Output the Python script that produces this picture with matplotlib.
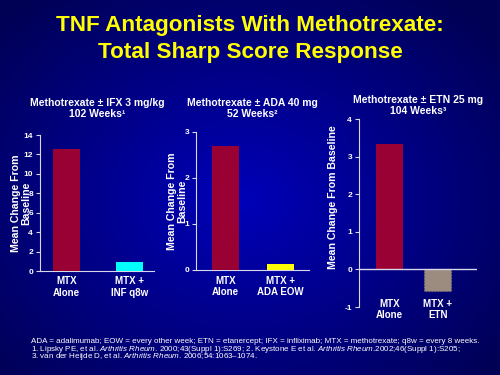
import numpy as np
import matplotlib.pyplot as plt

# data
cats1 = ['MTX\nAlone', 'MTX +\nINF q8w']
vals1 = [12.6, 0.9]
cats2 = ['MTX\nAlone', 'MTX +\nADA EOW']
vals2 = [2.7, 0.13]
cats3 = ['MTX\nAlone', 'MTX +\nETN']
vals3 = [3.33, -0.57]

titles = ['Methotrexate \u00b1 IFX 3 mg/kg\n102 Weeks\u00b9',
          'Methotrexate \u00b1 ADA 40 mg\n52 Weeks\u00b2',
          'Methotrexate \u00b1 ETN 25 mg\n104 Weeks\u00b3']

plt.rcParams['font.family'] = ['Liberation Sans', 'DejaVu Sans']
plt.rcParams['mathtext.fontset'] = 'custom'
plt.rcParams['mathtext.rm'] = 'Liberation Sans'
plt.rcParams['mathtext.it'] = 'Liberation Sans:italic'

fig = plt.figure(figsize=(5, 3.75), dpi=100)

# background gradient
bg = fig.add_axes([0, 0, 1, 1])
yy, xx = np.mgrid[0:375, 0:500]
r = np.sqrt(((xx - 240) / 330.0) ** 2 + ((yy - 200) / 260.0) ** 2)
r = np.clip(r, 0, 1)
c0 = np.array([0, 0, 185]) / 255.0
c1 = np.array([0, 0, 85]) / 255.0
img = c0[None, None, :] * (1 - r[..., None]) + c1[None, None, :] * r[..., None]
bg.imshow(img, aspect='auto', extent=[0, 1, 0, 1])
bg.axis('off')

fig.text(0.5, 0.933, 'TNF Antagonists With Methotrexate:', color='#FFFF00',
         fontsize=16.2, fontweight='bold', ha='center', va='center')
fig.text(0.5, 0.859, 'Total Sharp Score Response', color='#FFFF00',
         fontsize=16.2, fontweight='bold', ha='center', va='center')

wc = '#D8D8E8'


def panel(rect, cats, vals, colors, ylim, yticks, xlim, width, title, title_y,
          ylab, ylab_x, ylab_y, lab_y, zero_line=False):
    ax = fig.add_axes(rect)
    ax.set_facecolor('none')
    x = np.arange(len(vals))
    bars = ax.bar(x, vals, width=width, color=colors, zorder=3)
    ax.set_xlim(*xlim)
    ax.set_ylim(*ylim)
    ax.set_yticks(yticks)
    ax.set_yticklabels([str(t) for t in yticks], color='white',
                       fontsize=6, fontweight='bold')
    ax.tick_params(axis='y', colors=wc, length=3, width=0.8, pad=2,
                   labelcolor='white')
    ax.set_xticks([])
    for s in ['top', 'right']:
        ax.spines[s].set_visible(False)
    ax.spines['left'].set_color(wc)
    ax.spines['bottom'].set_color(wc)
    if zero_line:
        ax.spines['bottom'].set_visible(False)
        ax.axhline(0, color=wc, lw=1.0, zorder=4)
    for xi, c in zip(x, cats):
        ax.text(xi, lab_y, c, transform=ax.get_xaxis_transform(),
                ha='center', va='top', color='white', fontsize=7,
                fontweight='bold', linespacing=1.2)
    fig.text(rect[0] + rect[2] / 2, title_y, title, ha='center', va='center',
             color='white', fontsize=7.5, fontweight='bold', linespacing=1.1)
    fig.text(ylab_x, ylab_y, ylab, rotation=90, ha='center', va='center',
             color='white', fontsize=7.6, fontweight='bold', linespacing=1.0)
    return ax, bars


panel([0.080, 0.2773, 0.228, 0.3627], cats1, vals1, ['#990033', '#00FFFF'],
      (0, 14), [0, 2, 4, 6, 8, 10, 12, 14], (-0.42, 1.39), 0.43, titles[0],
      0.711, 'Mean Change From\nBaseline', 0.042, 0.457, -0.04)

panel([0.392, 0.280, 0.226, 0.368], cats2, vals2, ['#990033', '#FFFF00'],
      (0, 3), [0, 1, 2, 3], (-0.54, 1.52), 0.49, titles[1],
      0.711, 'Mean Change From\nBaseline', 0.354, 0.463, -0.04)

ax3, b3 = panel([0.718, 0.1813, 0.236, 0.5013], cats3, vals3,
                ['#990033', '#9C8C80'], (-1, 4), [-1, 0, 1, 2, 3, 4],
                (-0.64, 1.82), 0.56, titles[2], 0.719,
                'Mean Change From Baseline', 0.666, 0.475, 0.045,
                zero_line=True)
b3[1].set_edgecolor('#777777')
b3[1].set_linestyle(':')
b3[1].set_linewidth(0.8)

fig.text(0.062, 0.089,
         'ADA = adalimumab; EOW = every other week; ETN = etanercept; IFX = infliximab; '
         'MTX = methotrexate; q8w = every 8 weeks.',
         color='white', fontsize=5.8, ha='left', va='center')
fig.text(0.062, 0.069,
         '1. Lipsky PE, et al. $\\it{Arthritis\\ Rheum}$. 2000;43(Suppl 1):S269; '
         '2. Keystone E et al. $\\it{Arthritis\\ Rheum}$.2002;46(Suppl 1):S205;',
         color='white', fontsize=5.8, ha='left', va='center')
fig.text(0.062, 0.049,
         '3. van der Heijde D, et al. $\\it{Arthritis\\ Rheum}$. 2006;54:1063\u20131074.',
         color='white', fontsize=5.8, ha='left', va='center')

fig.savefig('out.png', dpi=100)
